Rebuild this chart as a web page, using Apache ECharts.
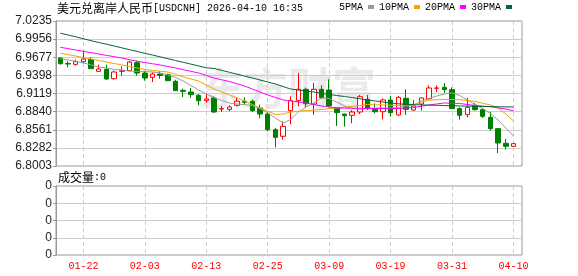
<!DOCTYPE html>
<html><head><meta charset="utf-8">
<script src="https://cdn.jsdelivr.net/npm/echarts@6/dist/echarts.min.js"></script>
<style>html,body{margin:0;padding:0;background:#fff}#c{width:578px;height:276px}</style>
</head><body><div id="c"></div>
<script>
const dates = ['01-19','01-20','01-21','01-22','01-23','01-26','01-27','01-28','01-29','01-30',
  '02-02','02-03','02-04','02-05','02-06','02-09','02-10','02-11','02-12','02-13',
  '02-16','02-17','02-18','02-19','02-20','02-23','02-24','02-25','02-26','02-27',
  '03-02','03-03','03-04','03-05','03-06','03-09','03-10','03-11','03-12','03-13',
  '03-16','03-17','03-18','03-19','03-20','03-23','03-24','03-25','03-26','03-27',
  '03-30','03-31','04-01','04-02','04-03','04-06','04-07','04-08','04-09','04-10'];
const openV = [6.9665,6.9583,6.9568,6.9609,6.9640,6.9460,6.9491,6.9347,6.9460,6.9470,
  6.9593,6.9434,6.9368,6.9419,6.9409,6.9306,6.9168,6.9142,6.9091,6.9009,
  6.9050,6.8880,6.8875,6.8937,6.9000,6.9000,6.8896,6.8803,6.8562,6.8460,
  6.8855,6.9009,6.9183,6.8957,6.9183,6.9173,6.8901,6.8803,6.8783,6.8834,
  6.9029,6.8875,6.8839,6.9019,6.8788,6.9044,6.8865,6.8957,6.9039,6.9199,
  6.9214,6.9178,6.8886,6.8793,6.8937,6.8870,6.8752,6.8578,6.8352,6.8306];
const closeV = [6.9578,6.9573,6.9609,6.9650,6.9501,6.9496,6.9342,6.9450,6.9470,6.9604,
  6.9434,6.9357,6.9419,6.9398,6.9316,6.9163,6.9152,6.9101,6.9009,6.9034,
  6.8834,6.8886,6.8911,6.9000,6.8983,6.8855,6.8803,6.8562,6.8444,6.8613,
  6.9009,6.9183,6.8962,6.9183,6.9055,6.8926,6.8824,6.8777,6.8834,6.9070,
  6.8891,6.8839,6.9019,6.8824,6.9060,6.8875,6.8926,6.9050,6.9204,6.9204,
  6.9178,6.8886,6.8783,6.8906,6.8870,6.8767,6.8578,6.8357,6.8306,6.8347];
const lowV = [6.9563,6.9522,6.9547,6.9583,6.9501,6.9460,6.9327,6.9332,6.9394,6.9465,
  6.9393,6.9316,6.9296,6.9347,6.9316,6.9163,6.9065,6.9050,6.8937,6.8978,
  6.8819,6.8834,6.8844,6.8921,6.8947,6.8834,6.8737,6.8537,6.8290,6.8408,
  6.8645,6.8921,6.8910,6.8790,6.9040,6.8906,6.8619,6.8608,6.8660,6.8803,
  6.8865,6.8814,6.8721,6.8762,6.8773,6.8788,6.8855,6.8855,6.9024,6.9142,
  6.9127,6.8886,6.8716,6.8752,6.8855,6.8742,6.8547,6.8203,6.8254,6.8301];
const highV = [6.9676,6.9614,6.9640,6.9778,6.9676,6.9563,6.9563,6.9470,6.9537,6.9624,
  6.9624,6.9470,6.9445,6.9460,6.9424,6.9332,6.9193,6.9204,6.9111,6.9111,
  6.9075,6.8927,6.8937,6.9050,6.9060,6.9024,6.8947,6.8834,6.8588,6.8690,
  6.9075,6.9434,6.9210,6.9280,6.9245,6.9337,6.8906,6.8803,6.8865,6.9096,
  6.9096,6.8967,6.9044,6.9080,6.9080,6.9183,6.9019,6.9060,6.9245,6.9245,
  6.9280,6.9214,6.8906,6.9050,6.8973,6.8896,6.8834,6.8578,6.8419,6.8352];
const ma5 = [6.9655,6.9635,6.9615,6.9589,6.9558,6.9527,6.9512,6.9488,6.9481,6.9465,
  6.9461,6.9458,6.9450,6.9435,6.9404,6.9368,6.9311,6.9242,6.9173,6.9111,
  6.9057,6.9011,6.8973,6.8957,6.8947,6.8934,6.8888,6.8819,6.8742,6.8665,
  6.8719,6.8834,6.8911,6.8973,6.9050,6.9042,6.8988,6.8927,6.8888,6.8880,
  6.8888,6.8896,6.8896,6.8896,6.8904,6.8927,6.8942,6.9004,6.9042,6.9081,
  6.9111,6.9127,6.9088,6.9019,6.8950,6.8888,6.8811,6.8711,6.8588,6.8465];
const ma10 = [6.9738,6.9717,6.9696,6.9673,6.9650,6.9627,6.9604,6.9581,6.9558,6.9535,
  6.9512,6.9492,6.9473,6.9462,6.9450,6.9412,6.9373,6.9342,6.9311,6.9250,
  6.9188,6.9142,6.9096,6.9050,6.9004,6.8950,6.8896,6.8846,6.8796,6.8803,
  6.8834,6.8846,6.8857,6.8865,6.8873,6.8885,6.8896,6.8908,6.8919,6.8935,
  6.8950,6.8946,6.8942,6.8938,6.8934,6.8942,6.8950,6.8985,6.9019,6.9023,
  6.9027,6.9026,6.9024,6.9010,6.8996,6.8969,6.8942,6.8896,6.8803,6.8696];
const ma20 = [6.9830,6.9810,6.9789,6.9768,6.9748,6.9727,6.9706,6.9686,6.9665,6.9640,
  6.9615,6.9596,6.9577,6.9558,6.9535,6.9512,6.9486,6.9461,6.9435,6.9397,
  6.9358,6.9331,6.9304,6.9269,6.9234,6.9188,6.9142,6.9096,6.9058,6.9019,
  6.9004,6.8988,6.8973,6.8950,6.8927,6.8911,6.8896,6.8894,6.8892,6.8890,
  6.8888,6.8888,6.8887,6.8888,6.8888,6.8896,6.8904,6.8923,6.8942,6.8958,
  6.8973,6.8969,6.8965,6.8950,6.8934,6.8925,6.8916,6.8898,6.8880,6.8854];
const ma30 = [7.0046,7.0020,6.9992,6.9962,6.9932,6.9904,6.9878,6.9850,6.9822,6.9794,
  6.9766,6.9738,6.9711,6.9683,6.9655,6.9627,6.9599,6.9571,6.9543,6.9515,
  6.9504,6.9475,6.9446,6.9416,6.9387,6.9358,6.9327,6.9296,6.9265,6.9226,
  6.9188,6.9173,6.9157,6.9142,6.9123,6.9104,6.9088,6.9072,6.9057,6.9038,
  6.9019,6.9004,6.8988,6.8973,6.8961,6.8950,6.8947,6.8944,6.8940,6.8937,
  6.8934,6.8931,6.8928,6.8925,6.8922,6.8919,6.8917,6.8915,6.8913,6.8911];
const volume = [0,0,0,0,0,0,0,0,0,0, 0,0,0,0,0,0,0,0,0,0, 0,0,0,0,0,0,0,0,0,0,
  0,0,0,0,0,0,0,0,0,0, 0,0,0,0,0,0,0,0,0,0, 0,0,0,0,0,0,0,0,0,0];
const priceTicks = ['6.8003','6.8282','6.8561','6.8840','6.9119','6.9398','6.9677','6.9956','7.0235'];
const volTicks = ['0','0','0','0','0'];

const kData = dates.map((d, i) => [openV[i], closeV[i], lowV[i], highV[i]]);
const labelIdx = (i) => (i - 3) % 8 === 0;
const MONO = 'Liberation Mono, DejaVu Sans Mono, monospace';
const CJK = 'Noto Sans CJK SC, sans-serif';
const GRIDC = '#cccccc';

const chart = echarts.init(document.getElementById('c'), null, {renderer: 'canvas'});
const frameY = (ticks, gi) => ({
  type: 'value', gridIndex: gi, min: 0, max: ticks.length - 1, interval: 1,
  axisLine: {show: true, lineStyle: {color: '#999'}},
  axisTick: {show: true, length: 3, lineStyle: {color: '#999'}},
  axisLabel: {formatter: v => ticks[v], color: '#222', fontSize: 12, fontFamily: 'Liberation Sans, Arial, sans-serif', margin: 4},
  splitLine: {show: true, lineStyle: {color: GRIDC, width: 1}}
});
const dataX = (gi, showLabel) => ({
  type: 'category', gridIndex: gi, data: dates, boundaryGap: true,
  axisLine: {show: false}, axisTick: {show: false},
  axisLabel: {show: showLabel, interval: labelIdx, color: '#ff0000', fontSize: 10, fontFamily: MONO, margin: 6},
  splitLine: {show: true, interval: labelIdx, alignWithLabel: true, lineStyle: {color: GRIDC, type: [4, 3], width: 1}}
});
const maSeries = (name, data, color) => ({
  name, type: 'line', data, xAxisIndex: 1, yAxisIndex: 1, symbol: 'none', showSymbol: false,
  color, itemStyle: {color}, lineStyle: {color, width: 1}, silent: true, z: 3
});

chart.setOption({
  animation: false,
  backgroundColor: '#fff',
  legend: {
    data: ['5PMA', '10PMA', '20PMA', '30PMA'], left: 339, top: 2, align: 'right',
    itemWidth: 6, itemHeight: 4, itemGap: 5, icon: 'rect', padding: 0, selectedMode: false,
    textStyle: {fontFamily: MONO, fontSize: 10, color: '#000'}
  },
  grid: [
    {left: 56, top: 21, width: 466, height: 145, show: true, borderColor: '#999', borderWidth: 1, backgroundColor: 'transparent'},
    {left: 56.5, top: 21, width: 460.8, height: 145},
    {left: 56, top: 186, width: 466, height: 69, show: true, borderColor: '#999', borderWidth: 1, backgroundColor: 'transparent'},
    {left: 56.5, top: 186, width: 460.8, height: 69}
  ],
  xAxis: [
    {type: 'value', gridIndex: 0, min: 0, max: 1, show: false},
    dataX(1, false),
    {type: 'value', gridIndex: 2, min: 0, max: 1, show: false},
    dataX(3, true)
  ],
  yAxis: [
    frameY(priceTicks, 0),
    {type: 'value', gridIndex: 1, min: +priceTicks[0], max: +priceTicks[priceTicks.length - 1], show: false, splitLine: {show: false}},
    frameY(volTicks, 2),
    {type: 'value', gridIndex: 3, min: 0, max: 1, show: false, splitLine: {show: false}}
  ],
  graphic: [
    {type: 'text', left: 200, top: 66, z: 0, silent: true,
      style: {text: '东方财富', font: 'bold 44px ' + CJK, fill: 'rgba(130,130,150,0.17)'}},
    {type: 'text', x: 57, y: 8.5, silent: true,
      style: {text: '{a|美元兑离岸人民币}{b|[USDCNH] 2026-04-10 16:35}', verticalAlign: 'middle',
        rich: {a: {fontFamily: CJK, fontSize: 12, fill: '#000', color: '#000'}, b: {fontFamily: MONO, fontSize: 10, color: '#000', fill: '#000'}}}},
    {type: 'text', x: 58, y: 177, silent: true,
      style: {text: '{a|成交量}{b|:0}', verticalAlign: 'middle',
        rich: {a: {fontFamily: CJK, fontSize: 12, color: '#000'}, b: {fontFamily: MONO, fontSize: 10, color: '#000'}}}}
  ],
  series: [
    {name: 'K', type: 'candlestick', xAxisIndex: 1, yAxisIndex: 1, data: kData, barWidth: 5, silent: true,
      itemStyle: {color: '#ffffff', color0: '#008000', borderColor: '#ff0000', borderColor0: '#008000', borderWidth: 1}},
    maSeries('5PMA', ma5, '#9a9a9a'),
    maSeries('10PMA', ma10, '#f5a400'),
    maSeries('20PMA', ma20, '#ff00ff'),
    maSeries('30PMA', ma30, '#006a36'),
    {name: 'VOL', type: 'bar', xAxisIndex: 3, yAxisIndex: 3, data: volume, barWidth: 5, silent: true, itemStyle: {color: '#008000'}}
  ]
});
</script></body></html>
